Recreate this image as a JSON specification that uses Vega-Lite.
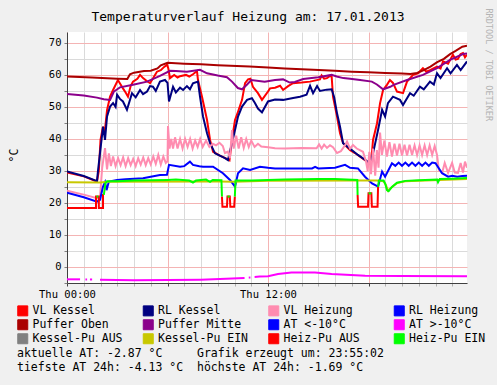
{
  "$schema": "https://vega.github.io/schema/vega-lite/v6.json",
  "width": 400,
  "height": 251,
  "autosize": {"type": "none"},
  "padding": {"left": 67, "top": 32, "right": 30, "bottom": 102},
  "background": "#f0f0f0",
  "config": {
    "font": "DejaVu Sans Mono",
    "view": {"fill": "white", "stroke": null}
  },
  "title": {
    "text": "Temperaturverlauf Heizung am: 17.01.2013",
    "font": "DejaVu Sans Mono",
    "fontSize": 13,
    "fontWeight": "normal",
    "color": "black",
    "anchor": "middle",
    "dx": -19,
    "offset": -16
  },
  "data": {
    "values": [
      {"s":"VL Kessel","h":0,"t":29.5},{"s":"VL Kessel","h":1,"t":28.3},{"s":"VL Kessel","h":1.79,"t":26.7},{"s":"VL Kessel","h":1.9,"t":30},{"s":"VL Kessel","h":2,"t":39.7},{"s":"VL Kessel","h":2.15,"t":43.8},{"s":"VL Kessel","h":2.25,"t":42},{"s":"VL Kessel","h":2.39,"t":49},{"s":"VL Kessel","h":2.57,"t":53.2},{"s":"VL Kessel","h":2.75,"t":55.3},{"s":"VL Kessel","h":3.04,"t":58.4},{"s":"VL Kessel","h":3.2,"t":57},{"s":"VL Kessel","h":3.34,"t":55.8},{"s":"VL Kessel","h":3.5,"t":54.5},{"s":"VL Kessel","h":3.64,"t":53.2},{"s":"VL Kessel","h":3.8,"t":56.5},{"s":"VL Kessel","h":3.94,"t":57.9},{"s":"VL Kessel","h":4.2,"t":58.8},{"s":"VL Kessel","h":4.36,"t":60},{"s":"VL Kessel","h":4.54,"t":59},{"s":"VL Kessel","h":4.78,"t":58},{"s":"VL Kessel","h":4.96,"t":57.4},{"s":"VL Kessel","h":5.2,"t":59.5},{"s":"VL Kessel","h":5.37,"t":61},{"s":"VL Kessel","h":5.6,"t":61.5},{"s":"VL Kessel","h":5.8,"t":62.5},{"s":"VL Kessel","h":5.97,"t":63.2},{"s":"VL Kessel","h":6.05,"t":62},{"s":"VL Kessel","h":6.15,"t":59},{"s":"VL Kessel","h":6.4,"t":60},{"s":"VL Kessel","h":6.6,"t":59.2},{"s":"VL Kessel","h":6.75,"t":59.6},{"s":"VL Kessel","h":7.1,"t":60},{"s":"VL Kessel","h":7.3,"t":59.5},{"s":"VL Kessel","h":7.52,"t":60.2},{"s":"VL Kessel","h":7.76,"t":61.2},{"s":"VL Kessel","h":7.82,"t":58.4},{"s":"VL Kessel","h":8.06,"t":53.2},{"s":"VL Kessel","h":8.36,"t":45.9},{"s":"VL Kessel","h":8.54,"t":39.7},{"s":"VL Kessel","h":8.72,"t":36},{"s":"VL Kessel","h":9.13,"t":34.8},{"s":"VL Kessel","h":9.55,"t":33.8},{"s":"VL Kessel","h":9.7,"t":33.3},{"s":"VL Kessel","h":9.85,"t":39.7},{"s":"VL Kessel","h":10.03,"t":45.9},{"s":"VL Kessel","h":10.21,"t":48.5},{"s":"VL Kessel","h":10.45,"t":52.2},{"s":"VL Kessel","h":10.63,"t":57.4},{"s":"VL Kessel","h":10.81,"t":58.6},{"s":"VL Kessel","h":10.95,"t":58.8},{"s":"VL Kessel","h":11.1,"t":56.3},{"s":"VL Kessel","h":11.4,"t":54.3},{"s":"VL Kessel","h":11.64,"t":52.2},{"s":"VL Kessel","h":12,"t":54.8},{"s":"VL Kessel","h":12.12,"t":55.8},{"s":"VL Kessel","h":12.42,"t":56},{"s":"VL Kessel","h":12.72,"t":56.6},{"s":"VL Kessel","h":12.9,"t":55.3},{"s":"VL Kessel","h":13.2,"t":56.5},{"s":"VL Kessel","h":13.49,"t":57.4},{"s":"VL Kessel","h":14,"t":57.6},{"s":"VL Kessel","h":14.51,"t":57.9},{"s":"VL Kessel","h":15.1,"t":58.6},{"s":"VL Kessel","h":15.2,"t":59.8},{"s":"VL Kessel","h":15.35,"t":58.8},{"s":"VL Kessel","h":15.52,"t":59},{"s":"VL Kessel","h":15.7,"t":59.7},{"s":"VL Kessel","h":15.8,"t":59.5},{"s":"VL Kessel","h":15.88,"t":53.2},{"s":"VL Kessel","h":16.12,"t":47},{"s":"VL Kessel","h":16.3,"t":41.8},{"s":"VL Kessel","h":16.48,"t":38.7},{"s":"VL Kessel","h":16.9,"t":36.5},{"s":"VL Kessel","h":17.19,"t":35.6},{"s":"VL Kessel","h":17.79,"t":33.4},{"s":"VL Kessel","h":18.09,"t":32.4},{"s":"VL Kessel","h":18.21,"t":36},{"s":"VL Kessel","h":18.27,"t":39.7},{"s":"VL Kessel","h":18.51,"t":44.9},{"s":"VL Kessel","h":18.69,"t":51.2},{"s":"VL Kessel","h":18.87,"t":55.3},{"s":"VL Kessel","h":19.1,"t":56.9},{"s":"VL Kessel","h":19.28,"t":58.4},{"s":"VL Kessel","h":19.46,"t":57.5},{"s":"VL Kessel","h":19.7,"t":54.8},{"s":"VL Kessel","h":20.06,"t":54.3},{"s":"VL Kessel","h":20.3,"t":57.9},{"s":"VL Kessel","h":20.66,"t":60},{"s":"VL Kessel","h":20.96,"t":60.5},{"s":"VL Kessel","h":21.25,"t":62.1},{"s":"VL Kessel","h":21.45,"t":61},{"s":"VL Kessel","h":21.67,"t":61.5},{"s":"VL Kessel","h":22.09,"t":62.6},{"s":"VL Kessel","h":22.3,"t":62},{"s":"VL Kessel","h":22.45,"t":64.2},{"s":"VL Kessel","h":22.75,"t":63.5},{"s":"VL Kessel","h":23.04,"t":66.3},{"s":"VL Kessel","h":23.2,"t":64.8},{"s":"VL Kessel","h":23.34,"t":65},{"s":"VL Kessel","h":23.5,"t":66.5},{"s":"VL Kessel","h":23.64,"t":66.8},{"s":"VL Kessel","h":23.76,"t":65.5},{"s":"VL Kessel","h":23.88,"t":66.3},

      {"s":"RL Kessel","h":0,"t":29.8},{"s":"RL Kessel","h":1,"t":28.4},{"s":"RL Kessel","h":1.79,"t":26.8},{"s":"RL Kessel","h":1.85,"t":30},{"s":"RL Kessel","h":1.97,"t":35.6},{"s":"RL Kessel","h":2.15,"t":43.8},{"s":"RL Kessel","h":2.27,"t":39.7},{"s":"RL Kessel","h":2.39,"t":47},{"s":"RL Kessel","h":2.57,"t":50.1},{"s":"RL Kessel","h":2.75,"t":51.2},{"s":"RL Kessel","h":2.9,"t":50},{"s":"RL Kessel","h":2.99,"t":53.8},{"s":"RL Kessel","h":3.16,"t":52.5},{"s":"RL Kessel","h":3.34,"t":51.7},{"s":"RL Kessel","h":3.58,"t":49.1},{"s":"RL Kessel","h":3.88,"t":54.3},{"s":"RL Kessel","h":4.1,"t":53},{"s":"RL Kessel","h":4.36,"t":55.3},{"s":"RL Kessel","h":4.54,"t":54},{"s":"RL Kessel","h":4.78,"t":54.8},{"s":"RL Kessel","h":4.96,"t":56.5},{"s":"RL Kessel","h":5.13,"t":56.3},{"s":"RL Kessel","h":5.3,"t":55},{"s":"RL Kessel","h":5.55,"t":57.9},{"s":"RL Kessel","h":5.85,"t":58.4},{"s":"RL Kessel","h":6,"t":57.5},{"s":"RL Kessel","h":6.09,"t":51.7},{"s":"RL Kessel","h":6.33,"t":56.3},{"s":"RL Kessel","h":6.5,"t":54.5},{"s":"RL Kessel","h":6.75,"t":56},{"s":"RL Kessel","h":6.93,"t":55.3},{"s":"RL Kessel","h":7.16,"t":56.5},{"s":"RL Kessel","h":7.34,"t":55.5},{"s":"RL Kessel","h":7.52,"t":57.4},{"s":"RL Kessel","h":7.82,"t":57.9},{"s":"RL Kessel","h":7.94,"t":53.2},{"s":"RL Kessel","h":8.12,"t":47},{"s":"RL Kessel","h":8.36,"t":41.8},{"s":"RL Kessel","h":8.54,"t":38.7},{"s":"RL Kessel","h":8.84,"t":35.5},{"s":"RL Kessel","h":9.43,"t":34},{"s":"RL Kessel","h":9.61,"t":33.4},{"s":"RL Kessel","h":9.85,"t":38.7},{"s":"RL Kessel","h":10.03,"t":42.8},{"s":"RL Kessel","h":10.21,"t":47},{"s":"RL Kessel","h":10.45,"t":50.1},{"s":"RL Kessel","h":10.75,"t":52.2},{"s":"RL Kessel","h":11.04,"t":52.7},{"s":"RL Kessel","h":11.22,"t":51.2},{"s":"RL Kessel","h":11.4,"t":49.5},{"s":"RL Kessel","h":11.64,"t":48.3},{"s":"RL Kessel","h":12,"t":51.7},{"s":"RL Kessel","h":12.42,"t":52.3},{"s":"RL Kessel","h":12.9,"t":52.2},{"s":"RL Kessel","h":13.5,"t":52.8},{"s":"RL Kessel","h":13.91,"t":53.2},{"s":"RL Kessel","h":14.3,"t":53.8},{"s":"RL Kessel","h":14.51,"t":56.6},{"s":"RL Kessel","h":14.69,"t":54.3},{"s":"RL Kessel","h":14.93,"t":56.5},{"s":"RL Kessel","h":15.1,"t":55},{"s":"RL Kessel","h":15.5,"t":55.4},{"s":"RL Kessel","h":15.8,"t":55.5},{"s":"RL Kessel","h":15.95,"t":53},{"s":"RL Kessel","h":16.12,"t":48},{"s":"RL Kessel","h":16.3,"t":43.8},{"s":"RL Kessel","h":16.48,"t":38.7},{"s":"RL Kessel","h":17.37,"t":35},{"s":"RL Kessel","h":18.09,"t":32.4},{"s":"RL Kessel","h":18.27,"t":35.5},{"s":"RL Kessel","h":18.57,"t":42.8},{"s":"RL Kessel","h":18.81,"t":49.1},{"s":"RL Kessel","h":18.99,"t":47},{"s":"RL Kessel","h":19.16,"t":51.2},{"s":"RL Kessel","h":19.46,"t":53.2},{"s":"RL Kessel","h":19.88,"t":52.2},{"s":"RL Kessel","h":20.06,"t":50.6},{"s":"RL Kessel","h":20.48,"t":54.3},{"s":"RL Kessel","h":20.7,"t":53.5},{"s":"RL Kessel","h":21.07,"t":56.3},{"s":"RL Kessel","h":21.3,"t":55.5},{"s":"RL Kessel","h":21.67,"t":57.9},{"s":"RL Kessel","h":21.9,"t":57},{"s":"RL Kessel","h":22.09,"t":60.5},{"s":"RL Kessel","h":22.3,"t":59},{"s":"RL Kessel","h":22.69,"t":62.1},{"s":"RL Kessel","h":22.9,"t":60.5},{"s":"RL Kessel","h":23.28,"t":63.1},{"s":"RL Kessel","h":23.5,"t":61.5},{"s":"RL Kessel","h":23.88,"t":64.2},

      {"s":"VL Heizung","h":0,"t":23.8},{"s":"VL Heizung","h":1,"t":22.6},{"s":"VL Heizung","h":1.79,"t":21.5},{"s":"VL Heizung","h":1.97,"t":21.8},{"s":"VL Heizung","h":2.1,"t":31},{"s":"VL Heizung","h":2.27,"t":37.1},{"s":"VL Heizung","h":2.39,"t":30.5},{"s":"VL Heizung","h":2.5,"t":35.5},{"s":"VL Heizung","h":2.62,"t":31.5},{"s":"VL Heizung","h":2.75,"t":34.5},{"s":"VL Heizung","h":2.9,"t":31.5},{"s":"VL Heizung","h":3.05,"t":34},{"s":"VL Heizung","h":3.2,"t":31.8},{"s":"VL Heizung","h":3.35,"t":34.2},{"s":"VL Heizung","h":3.5,"t":31.5},{"s":"VL Heizung","h":3.65,"t":34},{"s":"VL Heizung","h":3.8,"t":31.8},{"s":"VL Heizung","h":3.95,"t":33.8},{"s":"VL Heizung","h":4.1,"t":31.5},{"s":"VL Heizung","h":4.25,"t":34},{"s":"VL Heizung","h":4.4,"t":32},{"s":"VL Heizung","h":4.55,"t":34.2},{"s":"VL Heizung","h":4.7,"t":31.8},{"s":"VL Heizung","h":4.85,"t":34},{"s":"VL Heizung","h":5,"t":32},{"s":"VL Heizung","h":5.15,"t":34.5},{"s":"VL Heizung","h":5.3,"t":32.2},{"s":"VL Heizung","h":5.45,"t":35},{"s":"VL Heizung","h":5.6,"t":32},{"s":"VL Heizung","h":5.75,"t":34.5},{"s":"VL Heizung","h":5.9,"t":32.5},{"s":"VL Heizung","h":6,"t":33},{"s":"VL Heizung","h":6.03,"t":44},{"s":"VL Heizung","h":6.12,"t":37},{"s":"VL Heizung","h":6.22,"t":40},{"s":"VL Heizung","h":6.33,"t":37},{"s":"VL Heizung","h":6.45,"t":40.5},{"s":"VL Heizung","h":6.6,"t":37},{"s":"VL Heizung","h":6.75,"t":40},{"s":"VL Heizung","h":6.9,"t":37},{"s":"VL Heizung","h":7.05,"t":40},{"s":"VL Heizung","h":7.2,"t":37.5},{"s":"VL Heizung","h":7.35,"t":40},{"s":"VL Heizung","h":7.5,"t":37},{"s":"VL Heizung","h":7.65,"t":39.5},{"s":"VL Heizung","h":7.8,"t":37.5},{"s":"VL Heizung","h":7.95,"t":40},{"s":"VL Heizung","h":8.1,"t":37.5},{"s":"VL Heizung","h":8.3,"t":39.5},{"s":"VL Heizung","h":8.5,"t":37.5},{"s":"VL Heizung","h":8.7,"t":38.5},{"s":"VL Heizung","h":8.9,"t":38},{"s":"VL Heizung","h":9.1,"t":38.8},{"s":"VL Heizung","h":9.3,"t":37.8},{"s":"VL Heizung","h":9.43,"t":35.6},{"s":"VL Heizung","h":9.6,"t":36},{"s":"VL Heizung","h":9.73,"t":34},{"s":"VL Heizung","h":9.85,"t":42.8},{"s":"VL Heizung","h":9.95,"t":37},{"s":"VL Heizung","h":10.1,"t":41},{"s":"VL Heizung","h":10.25,"t":37},{"s":"VL Heizung","h":10.4,"t":40.5},{"s":"VL Heizung","h":10.55,"t":37.2},{"s":"VL Heizung","h":10.7,"t":40},{"s":"VL Heizung","h":10.85,"t":37.5},{"s":"VL Heizung","h":11,"t":39.5},{"s":"VL Heizung","h":11.2,"t":37.5},{"s":"VL Heizung","h":11.4,"t":38.5},{"s":"VL Heizung","h":11.6,"t":37.6},{"s":"VL Heizung","h":12,"t":37.4},{"s":"VL Heizung","h":12.42,"t":37.1},{"s":"VL Heizung","h":13,"t":37},{"s":"VL Heizung","h":14,"t":37.2},{"s":"VL Heizung","h":14.9,"t":37.1},{"s":"VL Heizung","h":15.05,"t":38.3},{"s":"VL Heizung","h":15.2,"t":37},{"s":"VL Heizung","h":15.35,"t":38.2},{"s":"VL Heizung","h":15.52,"t":37.2},{"s":"VL Heizung","h":15.7,"t":38},{"s":"VL Heizung","h":15.88,"t":37.4},{"s":"VL Heizung","h":16.12,"t":35.6},{"s":"VL Heizung","h":16.35,"t":36.2},{"s":"VL Heizung","h":16.6,"t":38},{"s":"VL Heizung","h":16.72,"t":39.2},{"s":"VL Heizung","h":16.9,"t":37},{"s":"VL Heizung","h":17.07,"t":38.1},{"s":"VL Heizung","h":17.3,"t":37},{"s":"VL Heizung","h":17.67,"t":36},{"s":"VL Heizung","h":17.85,"t":33},{"s":"VL Heizung","h":17.95,"t":30},{"s":"VL Heizung","h":18.05,"t":36},{"s":"VL Heizung","h":18.15,"t":29},{"s":"VL Heizung","h":18.27,"t":37},{"s":"VL Heizung","h":18.4,"t":28.5},{"s":"VL Heizung","h":18.5,"t":36.5},{"s":"VL Heizung","h":18.6,"t":31},{"s":"VL Heizung","h":18.69,"t":42},{"s":"VL Heizung","h":18.8,"t":35},{"s":"VL Heizung","h":18.95,"t":39.5},{"s":"VL Heizung","h":19.1,"t":34.5},{"s":"VL Heizung","h":19.25,"t":39},{"s":"VL Heizung","h":19.4,"t":34.5},{"s":"VL Heizung","h":19.55,"t":38.5},{"s":"VL Heizung","h":19.7,"t":34.8},{"s":"VL Heizung","h":19.85,"t":38.5},{"s":"VL Heizung","h":20,"t":34.8},{"s":"VL Heizung","h":20.15,"t":38.2},{"s":"VL Heizung","h":20.3,"t":34.8},{"s":"VL Heizung","h":20.45,"t":38.2},{"s":"VL Heizung","h":20.6,"t":35},{"s":"VL Heizung","h":20.75,"t":38},{"s":"VL Heizung","h":20.9,"t":35},{"s":"VL Heizung","h":21.05,"t":38},{"s":"VL Heizung","h":21.2,"t":35},{"s":"VL Heizung","h":21.35,"t":38},{"s":"VL Heizung","h":21.5,"t":35},{"s":"VL Heizung","h":21.65,"t":38},{"s":"VL Heizung","h":21.8,"t":35},{"s":"VL Heizung","h":21.95,"t":37.8},{"s":"VL Heizung","h":22.09,"t":35},{"s":"VL Heizung","h":22.2,"t":30.3},{"s":"VL Heizung","h":22.4,"t":29.5},{"s":"VL Heizung","h":22.55,"t":32.5},{"s":"VL Heizung","h":22.75,"t":29.4},{"s":"VL Heizung","h":22.99,"t":32.5},{"s":"VL Heizung","h":23.15,"t":29.5},{"s":"VL Heizung","h":23.34,"t":29.4},{"s":"VL Heizung","h":23.5,"t":32.5},{"s":"VL Heizung","h":23.64,"t":29.5},{"s":"VL Heizung","h":23.76,"t":32.9},{"s":"VL Heizung","h":23.88,"t":31},

      {"s":"RL Heizung","h":0,"t":23.2},{"s":"RL Heizung","h":1,"t":21.8},{"s":"RL Heizung","h":1.79,"t":20.4},{"s":"RL Heizung","h":1.97,"t":21},{"s":"RL Heizung","h":2.15,"t":25.1},{"s":"RL Heizung","h":2.27,"t":26.5},{"s":"RL Heizung","h":2.36,"t":24},{"s":"RL Heizung","h":2.5,"t":26.7},{"s":"RL Heizung","h":2.99,"t":27.2},{"s":"RL Heizung","h":3.5,"t":27.4},{"s":"RL Heizung","h":4.54,"t":27.7},{"s":"RL Heizung","h":5,"t":28.2},{"s":"RL Heizung","h":5.55,"t":28.75},{"s":"RL Heizung","h":5.97,"t":28.8},{"s":"RL Heizung","h":6.09,"t":31.9},{"s":"RL Heizung","h":6.75,"t":31.3},{"s":"RL Heizung","h":7,"t":31.5},{"s":"RL Heizung","h":7.34,"t":32.9},{"s":"RL Heizung","h":7.52,"t":31.9},{"s":"RL Heizung","h":7.9,"t":31.5},{"s":"RL Heizung","h":8.12,"t":31.3},{"s":"RL Heizung","h":8.72,"t":31.3},{"s":"RL Heizung","h":9.31,"t":29.3},{"s":"RL Heizung","h":9.73,"t":27.2},{"s":"RL Heizung","h":10.03,"t":25.1},{"s":"RL Heizung","h":10.21,"t":29.3},{"s":"RL Heizung","h":10.51,"t":30.8},{"s":"RL Heizung","h":10.93,"t":30.3},{"s":"RL Heizung","h":11.52,"t":31.3},{"s":"RL Heizung","h":12,"t":31},{"s":"RL Heizung","h":12.42,"t":30.8},{"s":"RL Heizung","h":13.5,"t":30.8},{"s":"RL Heizung","h":14.63,"t":30.8},{"s":"RL Heizung","h":14.81,"t":31.3},{"s":"RL Heizung","h":15,"t":30.8},{"s":"RL Heizung","h":16,"t":31},{"s":"RL Heizung","h":16.6,"t":31.9},{"s":"RL Heizung","h":16.9,"t":31},{"s":"RL Heizung","h":17.37,"t":30.8},{"s":"RL Heizung","h":17.79,"t":28.2},{"s":"RL Heizung","h":18.21,"t":26.1},{"s":"RL Heizung","h":18.57,"t":25.1},{"s":"RL Heizung","h":18.81,"t":29.8},{"s":"RL Heizung","h":18.99,"t":28.2},{"s":"RL Heizung","h":19.4,"t":32.4},{"s":"RL Heizung","h":19.6,"t":31.6},{"s":"RL Heizung","h":19.8,"t":32.6},{"s":"RL Heizung","h":20,"t":31.6},{"s":"RL Heizung","h":20.2,"t":32.6},{"s":"RL Heizung","h":20.4,"t":31.6},{"s":"RL Heizung","h":20.6,"t":32.6},{"s":"RL Heizung","h":20.8,"t":31.6},{"s":"RL Heizung","h":21,"t":32.6},{"s":"RL Heizung","h":21.2,"t":31.6},{"s":"RL Heizung","h":21.4,"t":32.6},{"s":"RL Heizung","h":21.6,"t":31.6},{"s":"RL Heizung","h":21.8,"t":32.6},{"s":"RL Heizung","h":22,"t":32.4},{"s":"RL Heizung","h":22.39,"t":29.3},{"s":"RL Heizung","h":22.75,"t":28.2},{"s":"RL Heizung","h":23,"t":28.5},{"s":"RL Heizung","h":23.3,"t":28.2},{"s":"RL Heizung","h":23.6,"t":28.4},{"s":"RL Heizung","h":23.88,"t":28.5},

      {"s":"Puffer Oben","h":0,"t":59.5},{"s":"Puffer Oben","h":1.5,"t":59.2},{"s":"Puffer Oben","h":3,"t":58.8},{"s":"Puffer Oben","h":3.6,"t":58.7},{"s":"Puffer Oben","h":3.76,"t":60.2},{"s":"Puffer Oben","h":4,"t":60.7},{"s":"Puffer Oben","h":4.6,"t":61.2},{"s":"Puffer Oben","h":5,"t":61.3},{"s":"Puffer Oben","h":5.4,"t":62},{"s":"Puffer Oben","h":5.6,"t":63},{"s":"Puffer Oben","h":6,"t":63.8},{"s":"Puffer Oben","h":7,"t":63.5},{"s":"Puffer Oben","h":8,"t":63.3},{"s":"Puffer Oben","h":9,"t":63},{"s":"Puffer Oben","h":10.9,"t":62.6},{"s":"Puffer Oben","h":12,"t":62.3},{"s":"Puffer Oben","h":13,"t":62},{"s":"Puffer Oben","h":14.7,"t":61.6},{"s":"Puffer Oben","h":16,"t":61.3},{"s":"Puffer Oben","h":17,"t":61},{"s":"Puffer Oben","h":18,"t":60.8},{"s":"Puffer Oben","h":19,"t":60.6},{"s":"Puffer Oben","h":20,"t":60.4},{"s":"Puffer Oben","h":20.5,"t":60.3},{"s":"Puffer Oben","h":20.9,"t":60.6},{"s":"Puffer Oben","h":21.3,"t":61.5},{"s":"Puffer Oben","h":21.7,"t":62.6},{"s":"Puffer Oben","h":22.1,"t":64},{"s":"Puffer Oben","h":22.5,"t":65},{"s":"Puffer Oben","h":22.87,"t":66.5},{"s":"Puffer Oben","h":23.2,"t":67.5},{"s":"Puffer Oben","h":23.6,"t":68.8},{"s":"Puffer Oben","h":23.88,"t":69.1},

      {"s":"Puffer Mitte","h":0,"t":54},{"s":"Puffer Mitte","h":1,"t":53.6},{"s":"Puffer Mitte","h":1.79,"t":52.9},{"s":"Puffer Mitte","h":2.2,"t":52.4},{"s":"Puffer Mitte","h":2.57,"t":52.2},{"s":"Puffer Mitte","h":2.8,"t":54.8},{"s":"Puffer Mitte","h":3.16,"t":56.1},{"s":"Puffer Mitte","h":3.94,"t":56.9},{"s":"Puffer Mitte","h":4.78,"t":57.9},{"s":"Puffer Mitte","h":5.55,"t":59.7},{"s":"Puffer Mitte","h":6.15,"t":61.3},{"s":"Puffer Mitte","h":6.5,"t":61.2},{"s":"Puffer Mitte","h":7.16,"t":61},{"s":"Puffer Mitte","h":7.94,"t":61.6},{"s":"Puffer Mitte","h":8.36,"t":60.5},{"s":"Puffer Mitte","h":9,"t":59.8},{"s":"Puffer Mitte","h":9.55,"t":59.3},{"s":"Puffer Mitte","h":9.85,"t":57.9},{"s":"Puffer Mitte","h":10.2,"t":55.9},{"s":"Puffer Mitte","h":10.45,"t":55.5},{"s":"Puffer Mitte","h":10.75,"t":57},{"s":"Puffer Mitte","h":11,"t":58.4},{"s":"Puffer Mitte","h":11.8,"t":57.9},{"s":"Puffer Mitte","h":12.42,"t":58.4},{"s":"Puffer Mitte","h":12.9,"t":58.6},{"s":"Puffer Mitte","h":13.3,"t":57.6},{"s":"Puffer Mitte","h":13.6,"t":57.8},{"s":"Puffer Mitte","h":14.1,"t":58.7},{"s":"Puffer Mitte","h":15,"t":59.3},{"s":"Puffer Mitte","h":15.8,"t":60},{"s":"Puffer Mitte","h":16.1,"t":59.5},{"s":"Puffer Mitte","h":16.5,"t":59},{"s":"Puffer Mitte","h":16.9,"t":58.8},{"s":"Puffer Mitte","h":17.5,"t":58.4},{"s":"Puffer Mitte","h":18.2,"t":57.9},{"s":"Puffer Mitte","h":18.5,"t":57},{"s":"Puffer Mitte","h":18.87,"t":55.5},{"s":"Puffer Mitte","h":19.3,"t":56.3},{"s":"Puffer Mitte","h":19.5,"t":56.9},{"s":"Puffer Mitte","h":20.3,"t":58.4},{"s":"Puffer Mitte","h":21.25,"t":60},{"s":"Puffer Mitte","h":22.09,"t":62.1},{"s":"Puffer Mitte","h":22.87,"t":64.7},{"s":"Puffer Mitte","h":23.64,"t":66.5},{"s":"Puffer Mitte","h":23.88,"t":66.7},

      {"s":"AT >-10°C","g":"M1","h":0,"t":-3.85},{"s":"AT >-10°C","g":"M1","h":0.78,"t":-3.85},
      {"s":"AT >-10°C","g":"M2","h":1.1,"t":-3.9},{"s":"AT >-10°C","g":"M2","h":1.2,"t":-3.9},
      {"s":"AT >-10°C","g":"M3","h":1.37,"t":-3.9},{"s":"AT >-10°C","g":"M3","h":1.5,"t":-3.9},
      {"s":"AT >-10°C","g":"M4","h":1.97,"t":-4},{"s":"AT >-10°C","g":"M4","h":4,"t":-4.13},{"s":"AT >-10°C","g":"M4","h":6,"t":-4.1},{"s":"AT >-10°C","g":"M4","h":8,"t":-3.95},{"s":"AT >-10°C","g":"M4","h":9.5,"t":-3.7},{"s":"AT >-10°C","g":"M4","h":10.6,"t":-3.4},
      {"s":"AT >-10°C","g":"M5","h":10.85,"t":-3.3},{"s":"AT >-10°C","g":"M5","h":10.95,"t":-3.3},
      {"s":"AT >-10°C","g":"M6","h":11.2,"t":-3.1},{"s":"AT >-10°C","g":"M6","h":11.5,"t":-3},{"s":"AT >-10°C","g":"M6","h":12,"t":-2.9},{"s":"AT >-10°C","g":"M6","h":12.6,"t":-2.2},{"s":"AT >-10°C","g":"M6","h":13.4,"t":-1.75},{"s":"AT >-10°C","g":"M6","h":14.8,"t":-1.75},{"s":"AT >-10°C","g":"M6","h":15.8,"t":-2.2},{"s":"AT >-10°C","g":"M6","h":17.8,"t":-2.7},{"s":"AT >-10°C","g":"M6","h":20,"t":-2.8},{"s":"AT >-10°C","g":"M6","h":23.88,"t":-2.87},

      {"s":"Kessel-Pu EIN","h":0,"t":26.5},{"s":"Kessel-Pu EIN","h":2,"t":26.4},{"s":"Kessel-Pu EIN","h":2.4,"t":26.6},{"s":"Kessel-Pu EIN","h":9,"t":26.7},{"s":"Kessel-Pu EIN","h":10,"t":26.6},{"s":"Kessel-Pu EIN","h":12,"t":26.9},{"s":"Kessel-Pu EIN","h":17.3,"t":27},{"s":"Kessel-Pu EIN","h":18.5,"t":27},{"s":"Kessel-Pu EIN","h":18.9,"t":26.8},{"s":"Kessel-Pu EIN","h":19.05,"t":25.5},{"s":"Kessel-Pu EIN","h":19.16,"t":23.8},{"s":"Kessel-Pu EIN","h":19.4,"t":25},{"s":"Kessel-Pu EIN","h":19.7,"t":26.2},{"s":"Kessel-Pu EIN","h":20.2,"t":26.8},{"s":"Kessel-Pu EIN","h":23.88,"t":27.5},

      {"s":"Heiz-Pu AUS","g":"A1","h":0,"t":18.4},{"s":"Heiz-Pu AUS","g":"A1","h":1.73,"t":18.4},{"s":"Heiz-Pu AUS","g":"A1","h":1.73,"t":22},{"s":"Heiz-Pu AUS","g":"A1","h":1.9,"t":22},{"s":"Heiz-Pu AUS","g":"A1","h":1.9,"t":18.4},{"s":"Heiz-Pu AUS","g":"A1","h":2.15,"t":18.4},{"s":"Heiz-Pu AUS","g":"A1","h":2.15,"t":22.5},{"s":"Heiz-Pu AUS","g":"A1","h":2.2,"t":22.5},
      {"s":"Heiz-Pu AUS","g":"A2","h":9.25,"t":22},{"s":"Heiz-Pu AUS","g":"A2","h":9.28,"t":18.8},{"s":"Heiz-Pu AUS","g":"A2","h":9.55,"t":18.8},{"s":"Heiz-Pu AUS","g":"A2","h":9.58,"t":22},{"s":"Heiz-Pu AUS","g":"A2","h":9.72,"t":22},{"s":"Heiz-Pu AUS","g":"A2","h":9.75,"t":18.8},{"s":"Heiz-Pu AUS","g":"A2","h":9.98,"t":18.8},{"s":"Heiz-Pu AUS","g":"A2","h":10.02,"t":22},
      {"s":"Heiz-Pu AUS","g":"A3","h":17.35,"t":22.5},{"s":"Heiz-Pu AUS","g":"A3","h":17.38,"t":18.8},{"s":"Heiz-Pu AUS","g":"A3","h":17.97,"t":18.8},{"s":"Heiz-Pu AUS","g":"A3","h":18,"t":23},{"s":"Heiz-Pu AUS","g":"A3","h":18.17,"t":23},{"s":"Heiz-Pu AUS","g":"A3","h":18.2,"t":18.8},{"s":"Heiz-Pu AUS","g":"A3","h":18.54,"t":18.8},{"s":"Heiz-Pu AUS","g":"A3","h":18.57,"t":25},

      {"s":"Heiz-Pu EIN","g":"E0","h":1.76,"t":22},{"s":"Heiz-Pu EIN","g":"E0","h":1.87,"t":22},
      {"s":"Heiz-Pu EIN","g":"E1","h":2.2,"t":22.5},{"s":"Heiz-Pu EIN","g":"E1","h":2.3,"t":26.3},{"s":"Heiz-Pu EIN","g":"E1","h":2.39,"t":26.8},{"s":"Heiz-Pu EIN","g":"E1","h":3,"t":26.8},{"s":"Heiz-Pu EIN","g":"E1","h":4,"t":27},{"s":"Heiz-Pu EIN","g":"E1","h":5,"t":27.1},{"s":"Heiz-Pu EIN","g":"E1","h":6,"t":27.2},{"s":"Heiz-Pu EIN","g":"E1","h":6.5,"t":27.3},{"s":"Heiz-Pu EIN","g":"E1","h":7.3,"t":27},{"s":"Heiz-Pu EIN","g":"E1","h":7.52,"t":26.4},{"s":"Heiz-Pu EIN","g":"E1","h":7.7,"t":27},{"s":"Heiz-Pu EIN","g":"E1","h":8.3,"t":27.3},{"s":"Heiz-Pu EIN","g":"E1","h":8.54,"t":26.6},{"s":"Heiz-Pu EIN","g":"E1","h":8.7,"t":27.2},{"s":"Heiz-Pu EIN","g":"E1","h":9.22,"t":27.1},{"s":"Heiz-Pu EIN","g":"E1","h":9.25,"t":22},
      {"s":"Heiz-Pu EIN","g":"E2","h":9.58,"t":22},{"s":"Heiz-Pu EIN","g":"E2","h":9.72,"t":22},
      {"s":"Heiz-Pu EIN","g":"E3","h":10.02,"t":22},{"s":"Heiz-Pu EIN","g":"E3","h":10.06,"t":27},{"s":"Heiz-Pu EIN","g":"E3","h":11,"t":27},{"s":"Heiz-Pu EIN","g":"E3","h":12,"t":27.2},{"s":"Heiz-Pu EIN","g":"E3","h":13,"t":27.3},{"s":"Heiz-Pu EIN","g":"E3","h":14,"t":27.4},{"s":"Heiz-Pu EIN","g":"E3","h":15,"t":27.5},{"s":"Heiz-Pu EIN","g":"E3","h":16,"t":27.5},{"s":"Heiz-Pu EIN","g":"E3","h":17.33,"t":27.2},{"s":"Heiz-Pu EIN","g":"E3","h":17.35,"t":22.5},
      {"s":"Heiz-Pu EIN","g":"E4","h":18,"t":23},{"s":"Heiz-Pu EIN","g":"E4","h":18.17,"t":23},
      {"s":"Heiz-Pu EIN","g":"E5","h":18.57,"t":25},{"s":"Heiz-Pu EIN","g":"E5","h":18.62,"t":27},{"s":"Heiz-Pu EIN","g":"E5","h":18.9,"t":27},{"s":"Heiz-Pu EIN","g":"E5","h":19,"t":26},{"s":"Heiz-Pu EIN","g":"E5","h":19.1,"t":24},{"s":"Heiz-Pu EIN","g":"E5","h":19.2,"t":23.7},{"s":"Heiz-Pu EIN","g":"E5","h":19.4,"t":25},{"s":"Heiz-Pu EIN","g":"E5","h":19.7,"t":26.3},{"s":"Heiz-Pu EIN","g":"E5","h":20.2,"t":26.9},{"s":"Heiz-Pu EIN","g":"E5","h":21,"t":27.1},{"s":"Heiz-Pu EIN","g":"E5","h":22.1,"t":27.3},{"s":"Heiz-Pu EIN","g":"E5","h":22.15,"t":26.5},{"s":"Heiz-Pu EIN","g":"E5","h":22.25,"t":27.5},{"s":"Heiz-Pu EIN","g":"E5","h":23,"t":27.6},{"s":"Heiz-Pu EIN","g":"E5","h":23.88,"t":27.8}
    ]
  },
  "layer": [
    {
      "mark": {"type": "line", "strokeWidth": 2, "clip": true, "interpolate": "linear"},
      "encoding": {
        "x": {
          "field": "h", "type": "quantitative",
          "scale": {"domain": [0, 23.88], "nice": false, "zero": false},
          "axis": {
            "values": [0,1,2,3,4,5,6,7,8,9,10,11,12,13,14,15,16,17,18,19,20,21,22,23],
            "labelExpr": "datum.value == 0 ? 'Thu 00:00' : (datum.value == 12 ? 'Thu 12:00' : '')",
            "title": null,
            "grid": true,
            "gridColor": {"condition": {"test": "datum.value % 6 == 0", "value": "#f4b4b4"}, "value": "#dadada"},
            "gridWidth": 1,
            "domainColor": "#404040",
            "tickColor": {"condition": {"test": "datum.value % 6 == 0", "value": "#404040"}, "value": "#b0b0b0"},
            "tickSize": 3,
            "labelPadding": 3,
            "labelFont": "DejaVu Sans Mono",
            "labelFontSize": 10.5,
            "labelColor": "black",
            "labelFlush": false,
            "labelOverlap": false
          }
        },
        "y": {
          "field": "t", "type": "quantitative",
          "scale": {"domain": [-5, 73.4], "nice": false, "zero": false},
          "axis": {
            "orient": "left",
            "values": [-5,0,5,10,15,20,25,30,35,40,45,50,55,60,65,70],
            "labelExpr": "datum.value % 10 == 0 ? datum.label : ''",
            "grid": true,
            "gridColor": {"condition": {"test": "datum.value % 10 == 0", "value": "#f4b4b4"}, "value": "#dadada"},
            "domainColor": "#404040",
            "tickColor": "#808080",
            "tickSize": 3,
            "labelPadding": 3,
            "labelFont": "DejaVu Sans Mono",
            "labelFontSize": 10.5,
            "labelColor": "black",
            "title": "°C",
            "titleFont": "DejaVu Sans Mono",
            "titleFontSize": 11.5,
            "titleFontWeight": "normal",
            "titleColor": "black",
            "titleAngle": -90,
            "titleX": -53,
            "titleY": 123,
            "titleBaseline": "middle",
            "titleAlign": "center"
          }
        },
        "color": {
          "field": "s", "type": "nominal",
          "scale": {
            "domain": ["VL Kessel","RL Kessel","VL Heizung","RL Heizung","Puffer Oben","Puffer Mitte","AT <-10°C","AT >-10°C","Kessel-Pu AUS","Kessel-Pu EIN","Heiz-Pu AUS","Heiz-Pu EIN"],
            "range": ["#ff0000","#000080","#ff8cb0","#0000ff","#aa0000","#8b008b","#0000ff","#ff00ff","#808080","#c8c800","#ff0000","#00ff00"]
          },
          "legend": {
            "orient": "none",
            "legendX": -50,
            "legendY": 273,
            "columns": 4,
            "direction": "horizontal",
            "gridAlign": "all",
            "columnPadding": 17.5,
            "rowPadding": -1,
            "padding": 0,
            "symbolType": "square",
            "symbolSize": 100,
            "symbolStrokeWidth": 1,
            "labelFont": "DejaVu Sans Mono",
            "labelFontSize": 11.5,
            "labelColor": "black",
            "labelOffset": 4,
            "labelLimit": 300,
            "title": ["aktuelle AT: -2.87 °C\u00a0\u00a0\u00a0\u00a0\u00a0Grafik erzeugt um: 23:55:02", "tiefste AT 24h: -4.13 °C\u00a0\u00a0höchste AT 24h: -1.69 °C"],
            "titleOrient": "bottom",
            "titleAnchor": "start",
            "titleFont": "DejaVu Sans Mono",
            "titleFontSize": 11.5,
            "titleFontWeight": "normal",
            "titleColor": "black",
            "titleLineHeight": 13.5,
            "titlePadding": 2,
            "titleLimit": 0,
            "encode": {
              "symbols": {
                "update": {
                  "fill": {"scale": "color", "field": "value"},
                  "stroke": {"value": "black"},
                  "strokeWidth": {"value": 1},
                  "opacity": {"value": 1}
                }
              }
            }
          }
        },
        "detail": {"field": "g", "type": "nominal"}
      }
    },
    {
      "mark": {"type": "point", "opacity": 0, "size": 0},
      "encoding": {
        "y": {
          "field": "t", "type": "quantitative",
          "scale": {"domain": [-5, 73.4], "nice": false, "zero": false},
          "axis": {
            "orient": "right",
            "labels": false,
            "ticks": false,
            "domain": false,
            "grid": false,
            "title": "RRDTOOL / TOBI OETIKER",
            "titleFont": "DejaVu Sans Mono",
            "titleFontSize": 8.5,
            "titleFontWeight": "normal",
            "titleColor": "#b4b4b4",
            "titleAngle": 90,
            "titleX": 21,
            "titleY": -24,
            "titleAlign": "left",
            "titleBaseline": "middle"
          }
        }
      }
    }
  ],
  "resolve": {"axis": {"y": "independent"}}
}
